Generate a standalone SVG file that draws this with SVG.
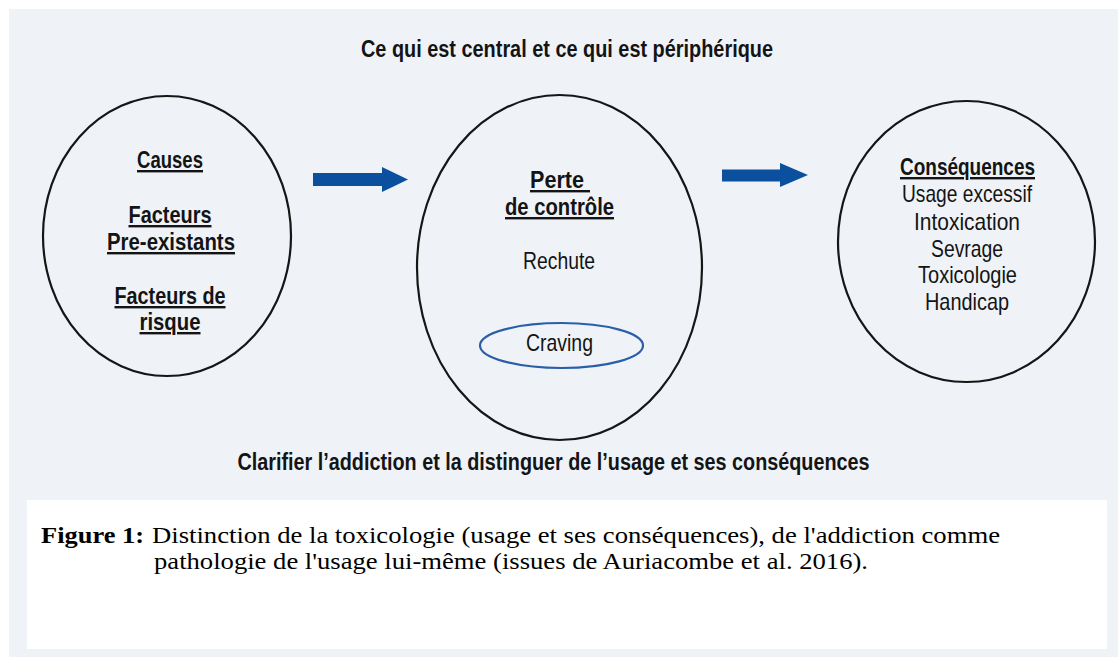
<svg xmlns="http://www.w3.org/2000/svg" width="1118" height="657" viewBox="0 0 1118 657">
<style>
.cond{font-family:"Liberation Sans Narrow","Liberation Sans","DejaVu Sans Condensed",sans-serif;fill:#141414;text-anchor:middle;font-size:24px}
.t{font-size:23px}
.b{font-weight:bold}
.u{text-decoration:underline}
.oval{fill:none;stroke:#161616;stroke-width:2.2}
.arrow{fill:#0b4f9f}
.cap{font-family:"Liberation Serif","Times New Roman",serif;font-size:24px;fill:#000}
</style>
<rect x="0" y="0" width="1118" height="657" fill="#ffffff"/>
<rect id="panel" x="9" y="9" width="1109" height="648" fill="#eff3f8"/>
<g id="title">
<text class="cond b t" x="567" y="57" textLength="412" lengthAdjust="spacingAndGlyphs">Ce qui est central et ce qui est périphérique</text>
</g>
<g id="node-causes">
<ellipse class="oval" cx="167" cy="236" rx="124" ry="140"/>
<text class="cond b u" x="170" y="168" textLength="66" lengthAdjust="spacingAndGlyphs">Causes</text>
<text class="cond b u" x="170" y="223" textLength="83" lengthAdjust="spacingAndGlyphs">Facteurs</text>
<text class="cond b u" x="171" y="250" textLength="128" lengthAdjust="spacingAndGlyphs">Pre-existants</text>
<text class="cond b u" x="170" y="304" textLength="111" lengthAdjust="spacingAndGlyphs">Facteurs de</text>
<text class="cond b u" x="170" y="330" textLength="61" lengthAdjust="spacingAndGlyphs">risque</text>
</g>
<g id="node-perte">
<ellipse class="oval" cx="559.5" cy="267.5" rx="142.5" ry="172.5"/>
<text class="cond b u" x="560" y="188" textLength="60" lengthAdjust="spacingAndGlyphs" xml:space="preserve">Perte </text>
<text class="cond b u" x="559.5" y="215" textLength="109" lengthAdjust="spacingAndGlyphs">de contrôle</text>
<text class="cond" x="559" y="269" textLength="72" lengthAdjust="spacingAndGlyphs">Rechute</text>
</g>
<g id="node-craving">
<ellipse cx="561.5" cy="345.5" rx="81.5" ry="22.5" fill="none" stroke="#2a5fa8" stroke-width="2.2"/>
<text class="cond" x="559.5" y="351" textLength="67" lengthAdjust="spacingAndGlyphs">Craving</text>
</g>
<g id="node-consequences">
<ellipse class="oval" cx="966.5" cy="241.5" rx="128.5" ry="140.5"/>
<text class="cond b u" x="967.5" y="175" textLength="135" lengthAdjust="spacingAndGlyphs">Conséquences</text>
<text class="cond" x="967" y="202" textLength="130" lengthAdjust="spacingAndGlyphs">Usage excessif</text>
<text class="cond" x="967" y="230" textLength="106" lengthAdjust="spacingAndGlyphs">Intoxication</text>
<text class="cond" x="967" y="257" textLength="72" lengthAdjust="spacingAndGlyphs">Sevrage</text>
<text class="cond" x="967.5" y="283" textLength="99" lengthAdjust="spacingAndGlyphs">Toxicologie</text>
<text class="cond" x="967" y="310" textLength="84" lengthAdjust="spacingAndGlyphs">Handicap</text>
</g>
<g id="connectors">
<polygon class="arrow" points="313,173 382,173 382,167 408,179.5 382,192 382,186 313,186"/>
<polygon class="arrow" points="722,169.5 780,169.5 780,163 808,175 780,187 780,181.5 722,181.5"/>
</g>
<g id="subtitle">
<text class="cond b t" x="553.5" y="470" textLength="632" lengthAdjust="spacingAndGlyphs">Clarifier l’addiction et la distinguer de l’usage et ses conséquences</text>
</g>
<g id="caption">
<rect x="27" y="500" width="1080" height="149" fill="#ffffff"/>
<text class="cap" x="41" y="543" font-weight="bold" textLength="103" lengthAdjust="spacingAndGlyphs">Figure 1:</text>
<text class="cap" x="152" y="543" textLength="848" lengthAdjust="spacingAndGlyphs">Distinction de la toxicologie (usage et ses conséquences), de l'addiction comme</text>
<text class="cap" x="154" y="569" textLength="714" lengthAdjust="spacingAndGlyphs">pathologie de l'usage lui-même (issues de Auriacombe et al. 2016).</text>
</g>
</svg>
